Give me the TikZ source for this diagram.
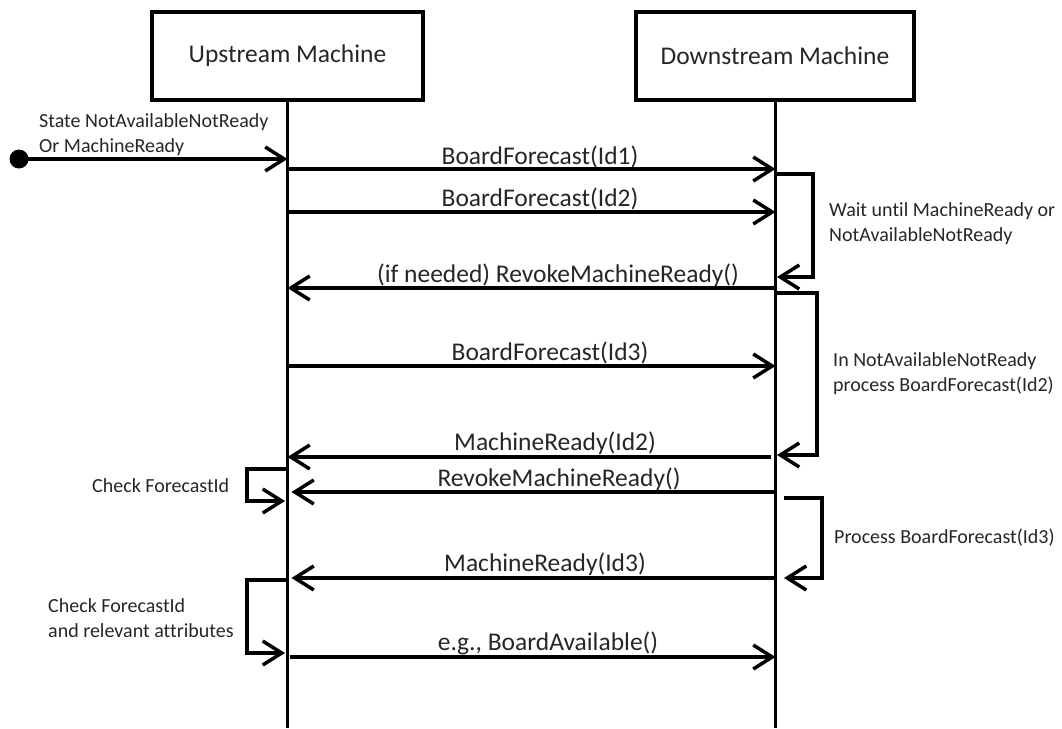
\documentclass[tikz,border=0pt]{standalone}
\usepackage{fontspec}
\setmainfont{Carlito}[RawFeature={-liga}]
\usetikzlibrary{arrows.meta}
\begin{document}
\begin{tikzpicture}[x=1pt,y=-1pt,
  every node/.style={inner sep=0pt, text=black!85},
  actor/.style={draw, line width=4pt, minimum width=271pt, minimum height=88pt, font=\fontsize{25.5}{30}\selectfont},
  life/.style={line width=3pt},
  msg/.style={line width=3.5pt, -{Straight Barb[length=19pt,width=24pt]}},
  self/.style={line width=3.5pt, -{Straight Barb[length=19pt,width=24pt]}},
  mlabel/.style={anchor=base, font=\fontsize{25.5}{30}\selectfont},
  note/.style={anchor=base west, align=left, font=\fontsize{20}{24.5}\selectfont}]
\useasboundingbox (0,0) rectangle (1062,728);
% actors
\node[actor] (up) at (287.5,56) {\raisebox{-3pt}{Upstream Machine}};
\node[actor, minimum width=278pt] (down) at (775,56) {\raisebox{-3pt}{Downstream Machine}};
\coordinate (bot) at (0,728);
\coordinate (U) at (287.5,0);
\coordinate (D) at (775.5,0);
\draw[life] (up.south) -- (up.south |- bot);
\draw[life] (down.south) -- (down.south |- bot);
% row coordinates
\coordinate (r0) at (0,159);
\coordinate (r1) at (0,169);
\coordinate (r2) at (0,212);
\coordinate (r3) at (0,288);
\coordinate (r4) at (0,366);
\coordinate (r5) at (0,457);
\coordinate (r6) at (0,492);
\coordinate (r7) at (0,578);
\coordinate (r8) at (0,657);
% initial
\node[circle, fill=black, minimum size=19pt] (start) at (19,159) {};
\draw[msg] (start.center) -- (U |- r0);
\node[note] (initlbl) at (39,152) {State NotAvailableNotReady\\Or MachineReady};
% messages
\draw[msg] (U |- r1) -- (D |- r1);
\node[mlabel] (m1) at (540,164) {BoardForecast(Id1)};
\draw[msg] (U |- r2) -- (D |- r2);
\node[mlabel] (m2) at (540,206) {BoardForecast(Id2)};
\draw[msg] (D |- r3) -- (U |- r3);
\node[mlabel] (m3) at (558,282) {(if needed) RevokeMachineReady()};
\draw[msg] (U |- r4) -- (D |- r4);
\node[mlabel] (m4) at (550,360) {BoardForecast(Id3)};
\draw[msg] ([xshift=-5pt]D |- r5) -- (U |- r5);
\node[mlabel] (m5) at (555,450) {MachineReady(Id2)};
\draw[msg] (D |- r6) -- ([xshift=4pt]U |- r6);
\node[mlabel] (m6) at (559,486) {RevokeMachineReady()};
\draw[msg] (D |- r7) -- ([xshift=4pt]U |- r7);
\node[mlabel] (m7) at (545,571) {MachineReady(Id3)};
\draw[msg] ([xshift=2pt]U |- r8) -- (D |- r8);
\node[mlabel] (m8) at (548,650) {e.g., BoardAvailable()};
% self activity boxes, downstream
\coordinate (s1a) at (776,174); \coordinate (s1b) at (777,277);
\draw[self] (s1a) -- (813,174) -- (813,277) -- (s1b);
\node[note] (n1) at (829,241) {Wait until MachineReady or\\NotAvailableNotReady};
\coordinate (s2a) at (776,293); \coordinate (s2b) at (777,455);
\draw[self] (s2a) -- (817,293) -- (817,455) -- (s2b);
\node[note] (n2) at (833,391) {In NotAvailableNotReady\\process BoardForecast(Id2)};
\coordinate (s3a) at (784,498); \coordinate (s3b) at (784,578);
\draw[self] (s3a) -- (822,498) -- (822,578) -- (s3b);
\node[note] (n3) at (834,543) {Process BoardForecast(Id3)};
% self activity boxes, upstream
\coordinate (u1a) at (286,469); \coordinate (u1b) at (285,501);
\draw[self] (u1a) -- (247,469) -- (247,501) -- (u1b);
\node[note] (n4) at (92,492) {Check ForecastId};
\coordinate (u2a) at (286,580); \coordinate (u2b) at (285,653);
\draw[self] (u2a) -- (247,580) -- (247,653) -- (u2b);
\node[note] (n5) at (48,637) {Check ForecastId\\and relevant attributes};
\end{tikzpicture}
\end{document}
